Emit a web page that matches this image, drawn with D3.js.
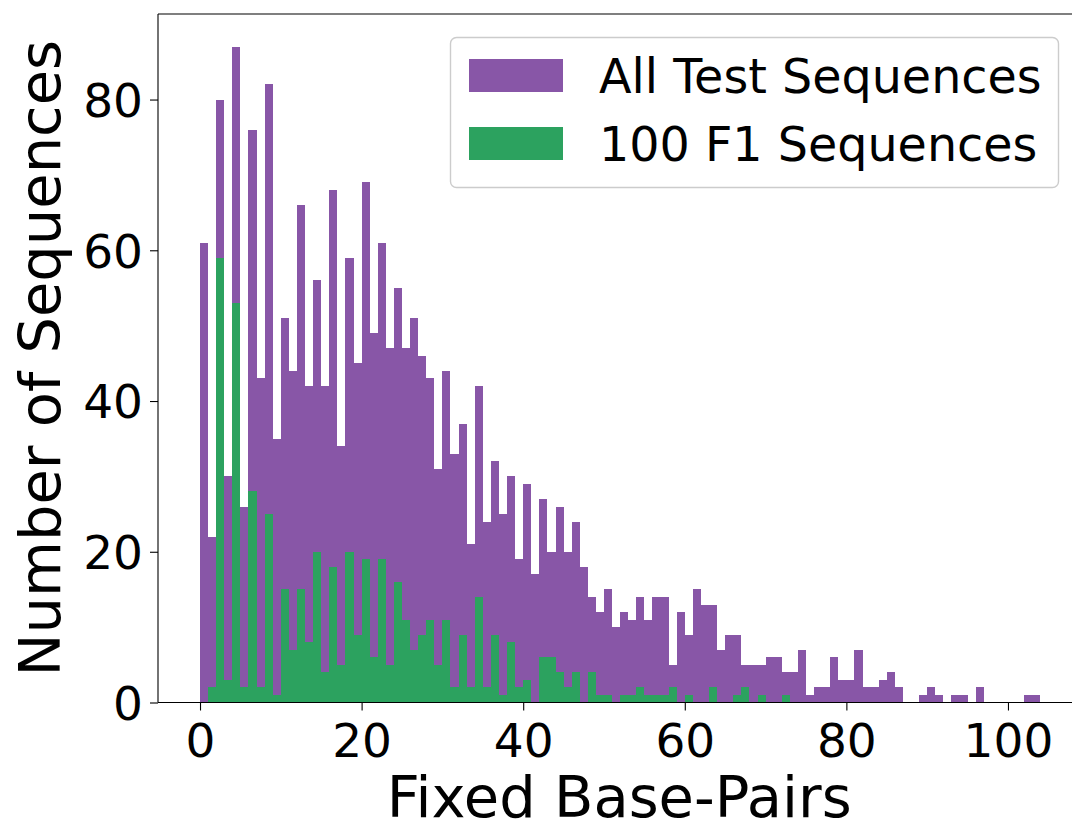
<!DOCTYPE html>
<html>
<head>
<meta charset="utf-8">
<script src="https://cdn.jsdelivr.net/npm/d3@7"></script>
<style>
  html, body { margin: 0; padding: 0; background: #ffffff; }
  svg { display: block; }
  text { font-family: "DejaVu Sans", sans-serif; fill: #000; }
</style>
</head>
<body>
<svg id="chart" width="1072" height="824"></svg>
<script>
// ---- data (one value per 1-unit bin, starting at 0) ----
const binStart = 0;
const binWidth = 1;
const allTestCounts = [
  61, 22, 80, 30, 87, 26, 76, 43, 82, 35,
  51, 44, 66, 42, 56, 42, 68, 34, 59, 45,
  69, 49, 61, 47, 55, 47, 51, 46, 43, 31,
  44, 33, 37, 21, 42, 24, 32, 25, 30, 19,
  29, 17, 27, 20, 26, 20, 24, 18, 14, 12,
  15, 10, 12, 11, 14, 11, 14, 14, 5, 12,
  9, 15, 13, 13, 7, 9, 9, 5, 5, 5,
  6, 6, 4, 4, 7, 1, 2, 2, 6, 3,
  3, 7, 2, 2, 3, 4, 2, 0, 0, 1,
  2, 1, 0, 1, 1, 0, 2, 0, 0, 0,
  0, 0, 1, 1
];
const f1Counts = [
  0, 2, 59, 3, 53, 2, 28, 2, 25, 1,
  15, 7, 15, 8, 20, 4, 18, 5, 20, 9,
  19, 6, 19, 5, 16, 11, 7, 9, 11, 5,
  11, 2, 9, 2, 14, 2, 9, 1, 8, 2,
  3, 0, 6, 6, 4, 2, 4, 0, 4, 1,
  1, 0, 1, 1, 2, 1, 1, 1, 2, 0,
  1, 0, 0, 2, 0, 0, 1, 2, 0, 1,
  0, 0, 1, 0
];
const seriesNames = ["All Test Sequences", "100 F1 Sequences"];
const seriesColors = ["#8856a7", "#2ca25f"];
const xTicks = [0, 20, 40, 60, 80, 100];
const yTicks = [0, 20, 40, 60, 80];
const xLabel = "Fixed Base-Pairs";
const yLabel = "Number of Sequences";

// ---- layout ----
const plot = { left: 158, right: 1082.3, top: 14, bottom: 702.5 };
const nBins = allTestCounts.length;
const dataMin = binStart, dataMax = binStart + nBins * binWidth;
const pad = 0.05 * (dataMax - dataMin);
const yMax = d3.max(allTestCounts) * 1.05;

const x = d3.scaleLinear().domain([dataMin - pad, dataMax + pad]).range([plot.left, plot.right]);
const y = d3.scaleLinear().domain([0, yMax]).range([plot.bottom, plot.top]);

const svg = d3.select("#chart");
svg.append("rect").attr("width", 1072).attr("height", 824).attr("fill", "#fff");

function drawBars(counts, color) {
  const data = counts.map((c, i) => ({ x0: binStart + i * binWidth, x1: binStart + (i + 1) * binWidth, c }))
                     .filter(d => d.c > 0);
  svg.append("g").selectAll("rect").data(data).join("rect")
    .attr("x", d => x(d.x0))
    .attr("width", d => x(d.x1) - x(d.x0))
    .attr("y", d => y(d.c))
    .attr("height", d => y(0) - y(d.c))
    .attr("fill", color)
    .attr("shape-rendering", "crispEdges");
}
drawBars(allTestCounts, seriesColors[0]);
drawBars(f1Counts, seriesColors[1]);

// ---- axes ----
const tickSize = 8;
const fs = 47;
const xAxis = d3.axisBottom(x).tickValues(xTicks).tickSize(tickSize).tickPadding(6).tickFormat(d3.format("d"));
const gx = svg.append("g").attr("transform", `translate(0,${plot.bottom})`).call(xAxis);
gx.select(".domain").remove();
gx.selectAll("line").attr("stroke", "#000").attr("stroke-width", 1.1);
gx.selectAll("text").attr("font-size", fs).attr("font-family", "DejaVu Sans").attr("dy", null)
  .attr("y", 54.5);

const yAxis = d3.axisLeft(y).tickValues(yTicks).tickSize(tickSize).tickPadding(7).tickFormat(d3.format("d"));
const gy = svg.append("g").attr("transform", `translate(${plot.left},0)`).call(yAxis);
gy.select(".domain").remove();
gy.selectAll("line").attr("stroke", "#000").attr("stroke-width", 1.1);
gy.selectAll("text").attr("font-size", fs).attr("font-family", "DejaVu Sans").attr("dy", "0.36em");

// spines
const sp = svg.append("g").attr("stroke", "#000").attr("stroke-width", 1.1).attr("fill", "none");
sp.append("line").attr("x1", plot.left).attr("x2", plot.left).attr("y1", plot.top).attr("y2", plot.bottom);
sp.append("line").attr("x1", plot.left).attr("x2", plot.right).attr("y1", plot.bottom).attr("y2", plot.bottom);
sp.append("line").attr("x1", plot.left).attr("x2", plot.right).attr("y1", plot.top).attr("y2", plot.top);
sp.append("line").attr("x1", plot.right).attr("x2", plot.right).attr("y1", plot.top).attr("y2", plot.bottom);

// axis labels
svg.append("text").attr("x", (plot.left + plot.right) / 2 - 1).attr("y", 817)
  .attr("text-anchor", "middle").attr("font-size", 57.5).text(xLabel);
svg.append("text").attr("transform", `translate(60,${(plot.top + plot.bottom) / 2}) rotate(-90)`)
  .attr("text-anchor", "middle").attr("font-size", 57.5).text(yLabel);

// ---- legend ----
const lg = svg.append("g");
lg.append("rect").attr("x", 450.5).attr("y", 37.5).attr("width", 608).attr("height", 150)
  .attr("rx", 6).attr("fill", "#fff").attr("fill-opacity", 0.8)
  .attr("stroke", "#cccccc").attr("stroke-width", 1.4);
seriesNames.forEach((name, i) => {
  const cy = 75.5 + i * 68;
  lg.append("rect").attr("x", 469).attr("y", cy - 16.5).attr("width", 94).attr("height", 33)
    .attr("fill", seriesColors[i]);
  lg.append("text").attr("x", 599).attr("y", cy + 17).attr("font-size", 47.6).text(name);
});
</script>
</body>
</html>
